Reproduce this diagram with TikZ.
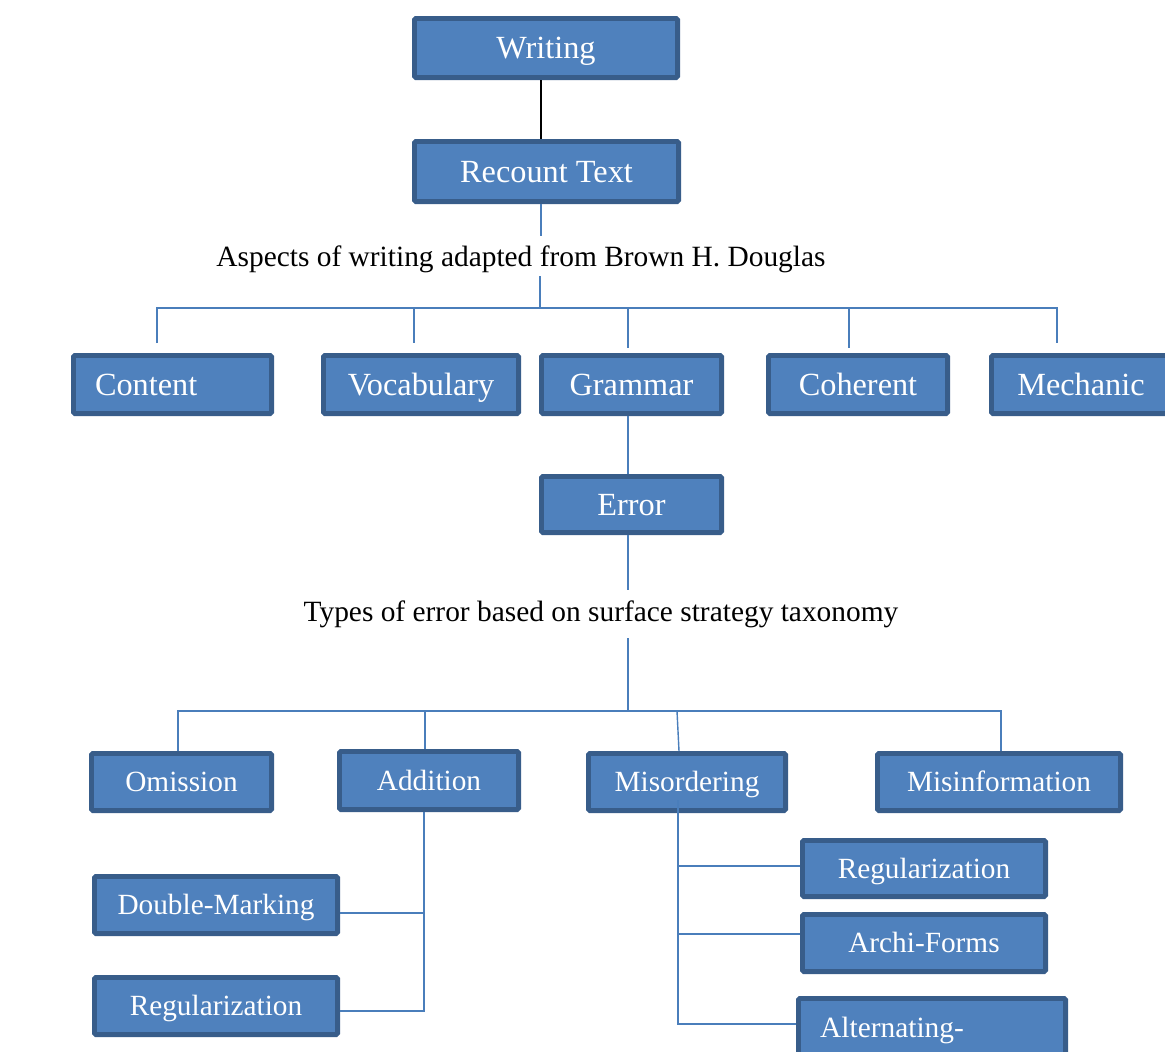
\documentclass[tikz,border=0pt]{standalone}
\usepackage{fontspec}
\setmainfont{Liberation Serif}
\definecolor{boxfill}{HTML}{4F81BD}
\definecolor{boxline}{HTML}{385D8A}
\definecolor{conncol}{HTML}{4A7EBB}
\begin{document}
\begin{tikzpicture}[x=1pt,y=-1pt,
  box/.style={draw=boxline, fill=boxfill, line width=4.8pt, rounded corners=1.5pt,
    inner sep=0pt, text=white, font=\fontsize{32.3}{37}\selectfont, text height=27pt, text depth=6pt},
  sbox/.style={box, font=\fontsize{29.3}{34}\selectfont, text height=25pt, text depth=6pt},
  conn/.style={draw=conncol, line width=1.4pt},
  lbl/.style={font=\fontsize{29.4}{34}\selectfont, inner sep=0pt, anchor=base}]
\useasboundingbox[fill=white] (0,0) rectangle (1165,1052);

% top
\node[box, minimum width=263.2pt, minimum height=59.2pt] (writing) at (546,48) {Writing};
\node[box, minimum width=264.2pt, minimum height=60.2pt] (recount) at (546.5,171.5) {Recount Text};
\draw[line width=2pt] (writing.south -| 541,0) -- (recount.north -| 541,0);

\node[lbl] (aspects) at (521,266) {Aspects of writing adapted from Brown H. Douglas};

% first row
\node[box, minimum width=198.2pt, minimum height=58.2pt, text width=155pt, align=left] (content) at (172.5,384.5) {Content};
\node[box, minimum width=195.2pt, minimum height=58.2pt] (vocab) at (421,384.5) {Vocabulary};
\node[box, minimum width=180.2pt, minimum height=58.2pt] (grammar) at (631.5,384.5) {Grammar};
\node[box, minimum width=179.2pt, minimum height=58.2pt] (coherent) at (858,384.5) {Coherent};
\node[box, minimum width=179.2pt, minimum height=58.2pt] (mechanic) at (1081,384.5) {Mechanic};

\coordinate (a1) at (541,236);
\coordinate (a2) at (540,276);
\coordinate (bus1) at (540,308);
\coordinate (d1) at (157,343);
\coordinate (d2) at (414,343);
\coordinate (d3) at (628,348);
\coordinate (d4) at (849,348);
\coordinate (d5) at (1057,343);
\draw[conn] (recount.south -| a1) -- (a1);
\draw[conn] (a2) -- (bus1);
\draw[conn] (d1) -- (d1 |- bus1) -- (d5 |- bus1) -- (d5);
\draw[conn] (d2 |- bus1) -- (d2);
\draw[conn] (d3 |- bus1) -- (d3);
\draw[conn] (d4 |- bus1) -- (d4);

% error
\node[box, minimum width=180.2pt, minimum height=56.2pt] (error) at (631.5,504.5) {Error};
\draw[conn] (grammar.south -| d3) -- (error.north -| d3);

\node[lbl] (types) at (601,621) {Types of error based on surface strategy taxonomy};
\coordinate (e1) at (628,590);
\coordinate (e2) at (628,638);
\coordinate (bus2) at (628,711);
\draw[conn] (error.south -| e1) -- (e1);
\draw[conn] (e2) -- (bus2);

% second row
\node[sbox, minimum width=180.2pt, minimum height=57.2pt] (omission) at (181.5,782) {Omission};
\node[sbox, minimum width=179.2pt, minimum height=58.2pt] (addition) at (429,780.5) {Addition};
\node[sbox, minimum width=197.2pt, minimum height=57.2pt] (misorder) at (687,782) {Misordering};
\node[sbox, minimum width=243.2pt, minimum height=57.2pt] (misinfo) at (999,782) {Misinformation};

\coordinate (f1) at (178,751);
\coordinate (f2) at (425,749);
\coordinate (f3) at (679,751);
\coordinate (f4) at (1001,751);
\draw[conn] (f1) -- (f1 |- bus2) -- (f4 |- bus2) -- (f4);
\draw[conn] (f2 |- bus2) -- (f2);
\draw[conn] (677,711) -- (f3);

% addition children
\node[sbox, minimum width=243.2pt, minimum height=57.2pt] (double) at (216,905) {Double-Marking};
\node[sbox, minimum width=243.2pt, minimum height=57.2pt] (regL) at (216,1006) {Regularization};
\coordinate (g1) at (424,913);
\coordinate (g2) at (424,1011);
\draw[conn] (addition.south -| g1) -- (g2) -- (g2 -| regL.east);
\draw[conn] (g1) -- (g1 -| double.east);

% misordering children
\node[sbox, minimum width=243.2pt, minimum height=56.2pt] (regR) at (924,868.5) {Regularization};
\node[sbox, minimum width=243.2pt, minimum height=57.2pt] (archi) at (924,943) {Archi-Forms};
\draw[draw=boxline, fill=boxfill, line width=4.8pt, rounded corners=1.5pt] (798.4,998.4) rectangle (1065.6,1100);
\node[lbl, text=white, anchor=base west] (alt) at (820,1037) {Alternating-};
\coordinate (h0) at (678,800);
\coordinate (h1) at (678,866);
\coordinate (h2) at (678,934);
\coordinate (h3) at (678,1024);
\draw[conn] (h0) -- (h3) -- (796,1024);
\draw[conn] (h1) -- (h1 -| regR.west);
\draw[conn] (h2) -- (h2 -| archi.west);
\end{tikzpicture}
\end{document}
